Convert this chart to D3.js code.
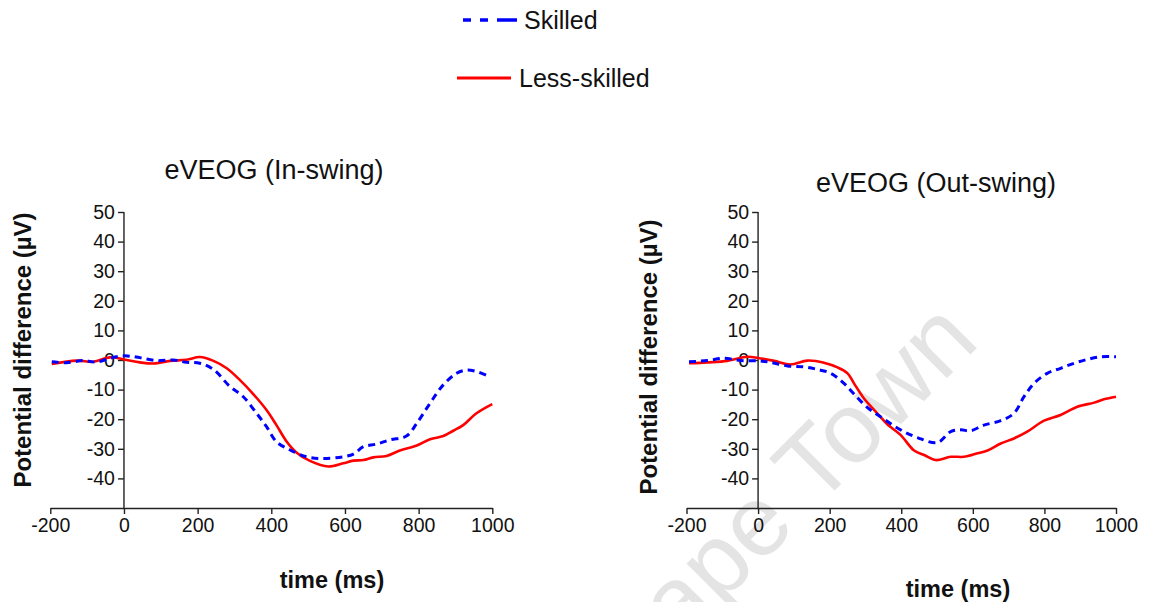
<!DOCTYPE html>
<html><head><meta charset="utf-8">
<script src="https://cdn.jsdelivr.net/npm/d3@7"></script>
<style>body{margin:0;background:#fff}svg{display:block}text{font-family:Arial,"Liberation Sans",sans-serif}</style>
</head><body><svg id="c" width="1159" height="602"></svg>
<script>
const seriesNames = ["Skilled", "Less-skilled"];
const xTicks = [-200, 0, 200, 400, 600, 800, 1000];
const yTicks = [-40, -30, -20, -10, 0, 10, 20, 30, 40, 50];

// In-swing
const inSkilledT = [-196,-156,-110,-74,-38,0,43,89,134,170,206,243,288,324,360,387,414,451,496,541,595,623,650,686,722,767,795,831,867,903,930,957,989];
const inSkilledV = [-0.6,-0.9,-0.2,-0.7,0.6,1.4,0.8,-0.2,0,-0.8,-1.1,-3.2,-9,-12.4,-18,-22.5,-27.6,-30.4,-32.7,-33.3,-32.7,-31.8,-29.3,-28.4,-27,-25.7,-21.4,-14.6,-8.4,-4.5,-3.4,-3.9,-5.4];
const inLessT = [-196,-128,-83,-38,0,43,80,125,170,206,243,279,315,351,387,414,442,469,505,555,595,623,650,677,713,749,795,831,867,894,921,957,1000];
const inLessV = [-1.35,-0.2,-0.6,0.9,0.2,-0.8,-1.2,-0.3,0.1,1.0,-0.3,-2.8,-6.8,-11.5,-16.9,-22,-27.6,-31.3,-34.1,-36,-34.9,-34,-33.8,-32.9,-32.4,-30.6,-28.9,-26.8,-25.7,-23.9,-22,-18,-14.9];

// Out-swing
const outSkilledT = [-193,-142,-95,-48,0,35,82,128,166,203,240,268,305,352,398,445,501,538,566,594,631,678,715,743,771,808,845,883,920,957,1000];
const outSkilledV = [-0.6,-0.2,0.6,-0.2,-0.3,-0.8,-2,-2.3,-3.2,-4.5,-7.9,-11.5,-16,-20,-23.6,-26.2,-27.9,-24.2,-23.6,-23.9,-22,-20.5,-18,-12.4,-7.9,-4.5,-2.8,-1.1,0.2,1.1,1.1];
const outLessT = [-193,-142,-86,-30,0,45,91,138,184,222,250,268,296,333,361,398,436,464,496,538,575,613,641,678,715,752,799,845,892,939,966,1000];
const outLessV = [-1.1,-0.8,-0.3,1.1,0.7,-0.3,-1.5,-0.2,-0.9,-2.5,-4.5,-7.9,-13,-18,-21.7,-25.3,-30.6,-32.1,-33.8,-32.7,-32.7,-31.5,-30.6,-28.2,-26.5,-24.2,-20.5,-18.6,-15.8,-14.4,-13.3,-12.4];

const titles = ["eVEOG (In-swing)", "eVEOG (Out-swing)"];
const yLabel = "Potential difference (µV)";
const xLabel = "time (ms)";

const svg = d3.select("#c");
const BLUE = "#0000ff", RED = "#ff0000";

// watermark
svg.append("text").attr("transform","translate(805,520) rotate(-45)")
  .attr("text-anchor","middle").attr("font-size",100).attr("fill","#e4e4e4").text("Cape Town");

const panels = [
  {x0:50.3, x1:492.3, title:titles[0], tx:274, ty:179, ylx:23, yly:350, xlx:332, xly:588,
   s:[{t:inSkilledT,v:inSkilledV},{t:inLessT,v:inLessV}]},
  {x0:686.5, x1:1116, title:titles[1], tx:936, ty:192, ylx:649, yly:357, xlx:958, xly:597,
   s:[{t:outSkilledT,v:outSkilledV},{t:outLessT,v:outLessV}]}
];

panels.forEach(p => {
  const x = d3.scaleLinear().domain([-200,1000]).range([p.x0,p.x1]);
  const y = d3.scaleLinear().domain([-50,50]).range([508,212]);
  const g = svg.append("g");
  const fmt = d => String(d);
  const xa = g.append("g").attr("transform","translate(0,508)")
    .call(d3.axisBottom(x).tickValues(xTicks).tickFormat(fmt).tickSize(6).tickPadding(4).tickSizeOuter(0));
  const ya = g.append("g").attr("transform",`translate(${x(0)},0)`)
    .call(d3.axisLeft(y).tickValues(yTicks).tickFormat(fmt).tickSize(6).tickPadding(3).tickSizeOuter(0));
  [xa,ya].forEach(a=>{
    a.selectAll("path,line").attr("stroke","#222").attr("stroke-width",1.4);
    a.selectAll("text").attr("font-size",19.5).attr("fill","#111").attr("font-family","Arial, 'Liberation Sans', sans-serif");
  });
  ya.select(".domain").attr("d",`M0,${y(-50)}V${y(50)}`);
  const line = d3.line().x(d=>x(d[0])).y(d=>y(d[1])).curve(d3.curveCatmullRom.alpha(0.5));
  g.append("path").datum(d3.zip(p.s[1].t,p.s[1].v)).attr("d",line)
    .attr("fill","none").attr("stroke",RED).attr("stroke-width",2.6);
  g.append("path").datum(d3.zip(p.s[0].t,p.s[0].v)).attr("d",line)
    .attr("fill","none").attr("stroke",BLUE).attr("stroke-width",3).attr("stroke-dasharray","7,5");
  g.append("text").attr("x",p.tx).attr("y",p.ty).attr("text-anchor","middle")
    .attr("font-size",27).attr("fill","#111").text(p.title);
  g.append("text").attr("transform",`translate(${p.ylx},${p.yly}) rotate(-90)`)
    .attr("text-anchor","middle").attr("dy","0.35em").attr("font-size",24).attr("font-weight","bold").attr("fill","#111").text(yLabel);
  g.append("text").attr("x",p.xlx).attr("y",p.xly).attr("text-anchor","middle")
    .attr("font-size",23.5).attr("font-weight","bold").attr("fill","#111").text(xLabel);
});

// legend
const lg = svg.append("g");
lg.append("line").attr("x1",463).attr("x2",517).attr("y1",20).attr("y2",20)
  .attr("stroke",BLUE).attr("stroke-width",3.3).attr("stroke-dasharray","8,9,8,9,20");
lg.append("text").attr("x",524).attr("y",20).attr("dy","0.36em").attr("font-size",25).attr("fill","#111").text(seriesNames[0]);
lg.append("line").attr("x1",457).attr("x2",511).attr("y1",78).attr("y2",78)
  .attr("stroke",RED).attr("stroke-width",3);
lg.append("text").attr("x",519).attr("y",78).attr("dy","0.36em").attr("font-size",25).attr("fill","#111").text(seriesNames[1]);
</script></body></html>
